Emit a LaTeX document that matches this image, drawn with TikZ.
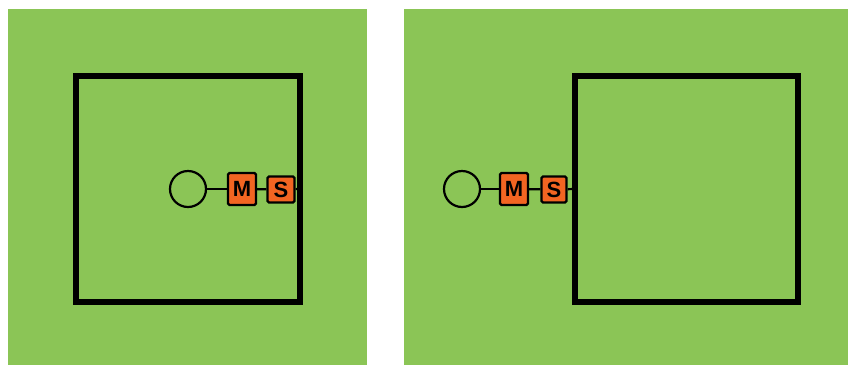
\documentclass[tikz,border=0pt]{standalone}
\usepackage{fontspec}
\setmainfont{Liberation Sans}
\definecolor{bggreen}{HTML}{8BC556}
\definecolor{msorange}{HTML}{F26522}
\begin{document}
\begin{tikzpicture}[x=1pt,y=-1pt,
  panel/.style={fill=bggreen,draw=none},
  wall/.style={draw=black,line width=5.5pt,line join=miter},
  ball/.style={circle,draw=black,line width=2.2pt,minimum size=36pt,inner sep=0pt},
  tagbox/.style={rectangle,draw=black,fill=msorange,line width=2.2pt,rounded corners=1.5pt,inner sep=0pt,font=\bfseries\fontsize{22}{22}\selectfont},
  link/.style={draw=black,line width=2.2pt}]
\useasboundingbox (0,0) rectangle (848,365);
\fill[white] (0,0) rectangle (848,365);
\path[panel] (8,9) rectangle (367,365);
\path[panel] (404,9) rectangle (848,365);
% left
\draw[wall] (76,76) rectangle (300,302);
\coordinate (lwall) at (300,189);
\node[ball] (lc) at (188,189) {};
\node[tagbox,minimum width=28pt,minimum height=32pt] (lm) at (242,189) {M};
\node[tagbox,minimum width=27pt,minimum height=26pt] (ls) at (281,189.5) {S};
\draw[link] (lc) -- (lm);
\draw[link] (lm) -- (ls);
\draw[link] (ls) -- (lwall);
% right
\draw[wall] (575,76) rectangle (798,302);
\coordinate (rwall) at (575,189);
\node[ball] (rc) at (462,189) {};
\node[tagbox,minimum width=28pt,minimum height=32pt] (rm) at (514,189) {M};
\node[tagbox,minimum width=25pt,minimum height=26pt] (rs) at (554,189.5) {S};
\draw[link] (rc) -- (rm);
\draw[link] (rm) -- (rs);
\draw[link] (rs) -- (rwall);
\end{tikzpicture}
\end{document}
